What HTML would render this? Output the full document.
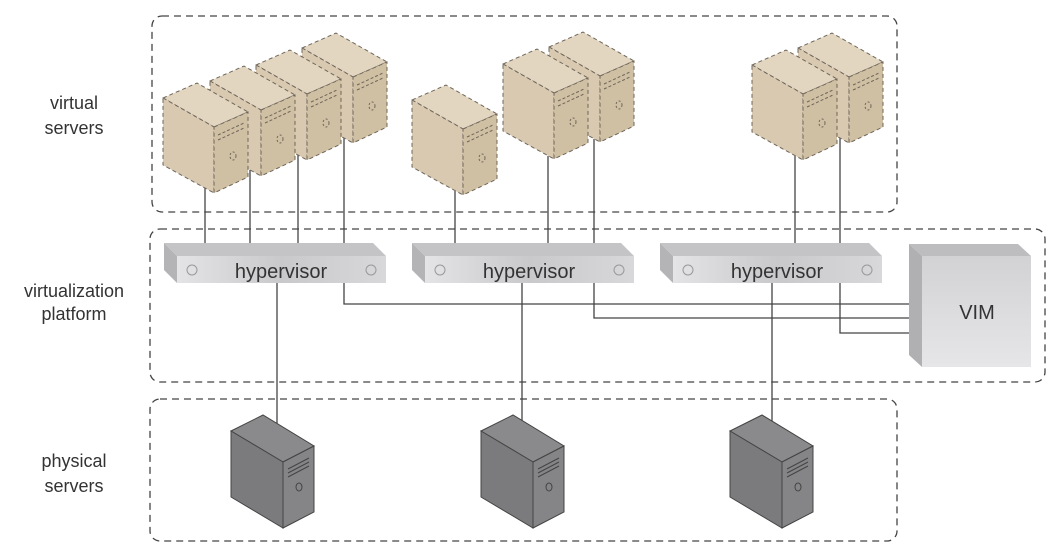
<!DOCTYPE html>
<html><head><meta charset="utf-8"><style>
html,body{margin:0;padding:0;background:#fff;}
svg{display:block;font-family:"Liberation Sans",Arial,sans-serif;}
</style></head><body>
<svg id="d" width="1055" height="554" viewBox="0 0 1055 554" xmlns="http://www.w3.org/2000/svg">
<defs>
<linearGradient id="hf" x1="0" y1="0" x2="1" y2="0"><stop offset="0" stop-color="#e4e4e6"/><stop offset="0.5" stop-color="#c9c9cc"/><stop offset="1" stop-color="#d8d8da"/></linearGradient>
<linearGradient id="vf" x1="0" y1="0" x2="0" y2="1"><stop offset="0" stop-color="#d2d2d4"/><stop offset="1" stop-color="#e6e6e8"/></linearGradient>
</defs>
<g fill="none" stroke="#444" stroke-width="1.3" stroke-dasharray="7,5">
<rect x="152" y="16" width="745" height="196" rx="10"/>
<rect x="150" y="229" width="895" height="153" rx="10"/>
<rect x="150" y="399" width="747" height="142" rx="10"/>
</g>
<g font-size="18" fill="#333" text-anchor="middle">
<text x="74" y="109">virtual</text>
<text x="74" y="134">servers</text>
<text x="74" y="297">virtualization</text>
<text x="74" y="320">platform</text>
<text x="74" y="467">physical</text>
<text x="74" y="492">servers</text>
</g>
<g id="lines" fill="none" stroke="#444" stroke-width="1.3"></g>
<g id="vs"></g>
<g id="hv"></g>
<g>
<polygon points="909,244 1018,244 1031,256 922,256" fill="#bdbdc0"/>
<polygon points="909,244 922,256 922,367 909,355" fill="#b0b0b3"/>
<rect x="922" y="256" width="109" height="111" fill="url(#vf)"/>
<text x="977" y="319" font-size="20" fill="#333" text-anchor="middle">VIM</text>
</g>
<g id="ps"></g>
</svg>
<script>
const NS="http://www.w3.org/2000/svg";
function mk(tag,attrs,parent){const e=document.createElementNS(NS,tag);for(const k in attrs)e.setAttribute(k,attrs[k]);parent.appendChild(e);return e;}
const L=document.getElementById('lines');
const segs=[
"M205,245V188","M250,245V170","M298,245V155","M344,245V138","M344,283V304H915",
"M455,245V191","M548,245V156","M594,245V139","M594,283V318H915",
"M795,245V156","M840,245V138","M840,283V333H915",
"M277,283V432","M522,283V432","M772,283V432"];
segs.forEach(d=>{const p=mk('path',{d:d},L);});
const VS=document.getElementById('vs');
function vserver(x,y){
 const g=mk('g',{},VS);
 
 
 const s={stroke:'#6e665a','stroke-width':1,'stroke-dasharray':'4,3'};
 mk('polygon',Object.assign({points:`${x},${y} ${x+34},${y-15} ${x+85},${y+14} ${x+51},${y+29}`,fill:'#e2d6c1'},s),g);
 mk('polygon',Object.assign({points:`${x},${y} ${x+51},${y+29} ${x+51},${y+95} ${x},${y+67}`,fill:'#d8c9b0'},s),g);
 mk('polygon',Object.assign({points:`${x+51},${y+29} ${x+85},${y+14} ${x+85},${y+79} ${x+51},${y+95}`,fill:'#cfbfa3'},s),g);
 mk('path',{d:`M${x+55},${y+37}L${x+81},${y+25}M${x+55},${y+42}L${x+81},${y+30}`,stroke:'#6e665a','stroke-width':1,'stroke-dasharray':'3,2'},g);
 mk('ellipse',{cx:x+70,cy:y+58,rx:3,ry:4,fill:'none',stroke:'#6e665a','stroke-dasharray':'2,2'},g);
}
[[302,48],[256,65],[210,81],[163,98],[412,100],[549,47],[503,64],[798,48],[752,65]].forEach(p=>vserver(p[0],p[1]));
const HV=document.getElementById('hv');
[164,412,660].forEach(x=>{
 const g=mk('g',{},HV);
 
 
 mk('polygon',{points:`${x},243 ${x+209},243 ${x+222},256 ${x+13},256`,fill:'#c4c4c7'},g);
 mk('polygon',{points:`${x},243 ${x+13},256 ${x+13},283 ${x},270`,fill:'#b4b4b7'},g);
 mk('rect',{x:x+13,y:256,width:209,height:27,fill:'url(#hf)'},g);
 mk('circle',{cx:x+28,cy:270,r:5,fill:'none',stroke:'#999'},g);
 mk('circle',{cx:x+207,cy:270,r:5,fill:'none',stroke:'#999'},g);
 const t=mk('text',{x:x+117,y:278,'font-size':20,fill:'#333','text-anchor':'middle'},g);
 t.textContent='hypervisor';
 
 
});
const PS=document.getElementById('ps');
[231,481,730].forEach(x=>{
 const g=mk('g',{},PS);
 
 
 const s={stroke:'#444','stroke-width':1};
 mk('polygon',Object.assign({points:`${x},431 ${x+32},415 ${x+83},446 ${x+52},462`,fill:'#8a8a8c'},s),g);
 mk('polygon',Object.assign({points:`${x},431 ${x+52},462 ${x+52},528 ${x},497`,fill:'#7b7b7d'},s),g);
 mk('polygon',Object.assign({points:`${x+52},462 ${x+83},446 ${x+83},512 ${x+52},528`,fill:'#858587'},s),g);
 mk('path',{d:`M${x+57},469L${x+78},458M${x+57},473L${x+78},462M${x+57},477L${x+78},466`,stroke:'#444','stroke-width':1},g);
 mk('ellipse',{cx:x+68,cy:487,rx:3,ry:4,fill:'none',stroke:'#444'},g);
});
</script>
</body></html>
